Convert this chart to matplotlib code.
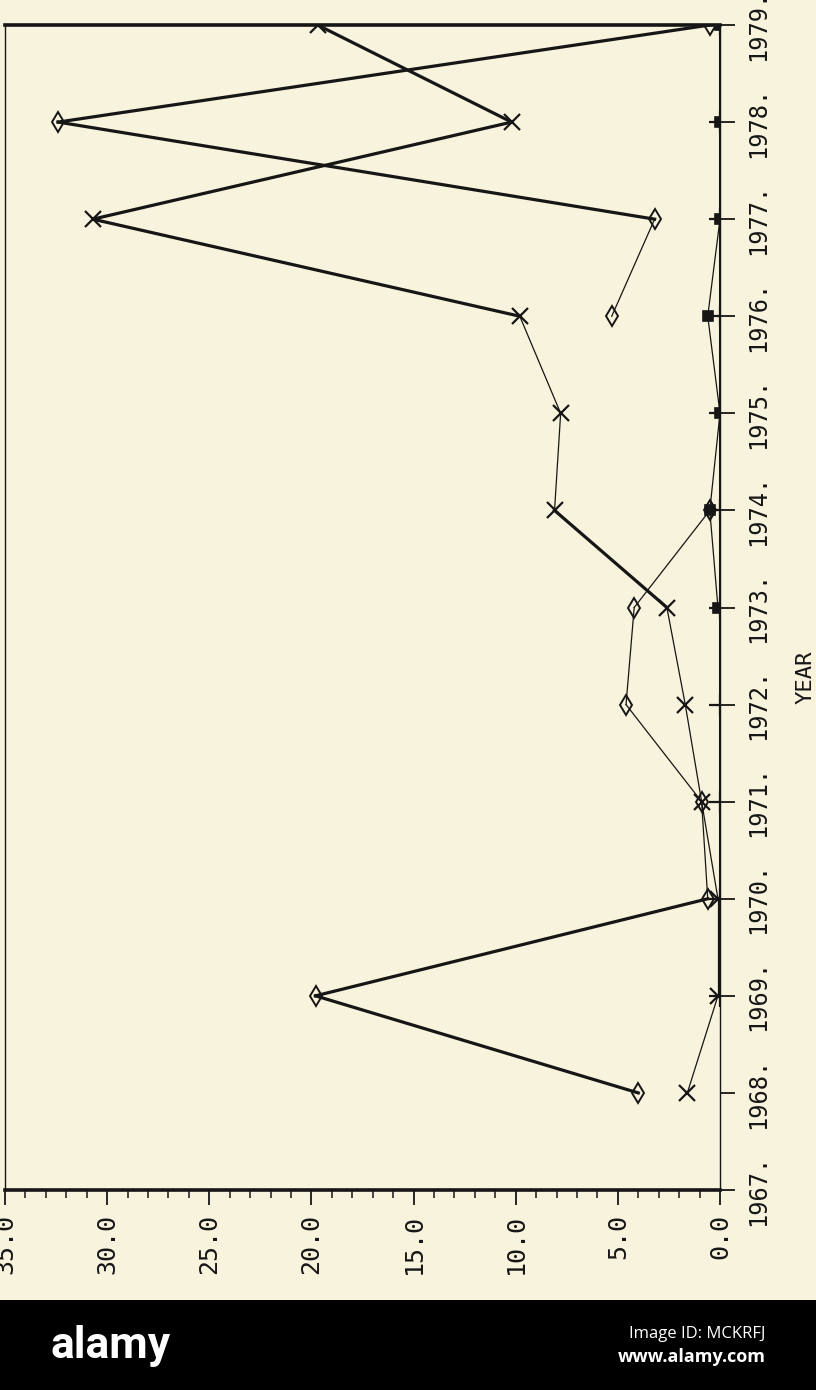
import numpy as np
import matplotlib
matplotlib.use('Agg')
from matplotlib import pyplot as plt
from matplotlib.ticker import MultipleLocator

years = [1968, 1969, 1970, 1971, 1972, 1973, 1974, 1975, 1976, 1977, 1978, 1979]
diamond = [4.0, 19.8, 0.6, 0.9, 4.6, 4.2, 0.5, np.nan, 5.3, 3.2, 32.4, 0.5]
cross = [1.6, 0.1, 0.1, 0.9, 1.7, 2.6, 8.1, 7.8, 9.8, 30.7, 10.2, 19.7]
plus_years = [1969, 1970, 1971, 1972, 1973, 1974, 1975, 1976, 1977, 1978, 1979]
plus_vals = [0.0, 0.0, 0.0, 0.0, 0.0, 0.0, 0.0, 0.0, 0.0, 0.0, 0.0]
square_years = [1973, 1974, 1975, 1976, 1977, 1978, 1979]
square_vals = [0.1, 0.5, 0.0, 0.6, 0.0, 0.0, 0.0]

year_ticks = list(range(1967, 1980))
year_labels = ['%d.' % y for y in year_ticks]
val_ticks = [0, 5, 10, 15, 20, 25, 30, 35]
val_labels = ['%.1f' % v for v in val_ticks]

paper = '#f7f3dc'
ink = '#161616'
mono = 'DejaVu Sans Mono'

fig = plt.figure(figsize=(8.16, 13.9), dpi=100, facecolor=paper)
ax = fig.add_axes([5/816, 200/1390, 715/816, 1165/1390])
ax.set_facecolor(paper)


def draw(xs, vals, marker, ms, mew, filled=False, base_lw=0.9):
    # plotter look: long strokes come out heavier than short ones
    for i in range(len(xs) - 1):
        a, b = vals[i], vals[i+1]
        if np.isnan(a) or np.isnan(b):
            continue
        lw = 2.3 if abs(b - a) > 5 else base_lw
        ax.plot([a, b], [xs[i], xs[i+1]], color=ink, lw=lw, zorder=3)
    ax.plot(vals, xs, ls='none', marker=marker, ms=ms, mew=mew,
            mec=ink, mfc=ink if filled else 'none', zorder=4)


draw(plus_years, plus_vals, '+', 16, 1.6, base_lw=2.2)
draw(square_years, square_vals, 's', 7, 1.2, filled=True)
draw(years, cross, 'x', 11, 1.6)
draw(years, diamond, 'd', 10, 1.4)

ax.set_xlim(35, 0)
ax.set_ylim(1967, 1979)

ax.set_xticks(val_ticks)
ax.set_xticklabels(val_labels, rotation=90, fontfamily=mono, fontsize=18, color=ink)
ax.xaxis.set_minor_locator(MultipleLocator(1))
ax.tick_params(axis='x', which='major', direction='out', length=11, width=1.3, pad=6, colors=ink)
ax.tick_params(axis='x', which='minor', direction='out', length=6, width=1.1, colors=ink)

ax.yaxis.tick_right()
ax.set_yticks(year_ticks)
ax.set_yticklabels(year_labels, rotation=90, va='center', fontfamily=mono, fontsize=17, color=ink)
ax.tick_params(axis='y', direction='out', length=11, width=1.3, pad=8, colors=ink)

ax.spines['bottom'].set_linewidth(2.6)
ax.spines['top'].set_linewidth(2.6)
ax.spines['left'].set_linewidth(1.0)
ax.spines['right'].set_linewidth(1.0)
for s in ax.spines.values():
    s.set_color(ink)

fig.text(806/816, 1 - 677/1390, 'YEAR', rotation=90, ha='center', va='center',
         fontfamily=mono, fontsize=16, color=ink)

# stock-photo banner along the bottom
band = fig.add_axes([0, 0, 1, 90/1390])
band.set_facecolor('black')
band.set_xticks([]), band.set_yticks([])
for s in band.spines.values():
    s.set_visible(False)
fig.text(50/816, 1 - 1346/1390, 'alamy', color='white', fontsize=32, fontweight='bold',
         fontfamily='Roboto', ha='left', va='center')
fig.text(765/816, 1 - 1334/1390, 'Image ID: MCKRFJ', color='white', fontsize=12,
         fontfamily='Open Sans', ha='right', va='center')
fig.text(766/816, 1 - 1357/1390, 'www.alamy.com', color='white', fontsize=13,
         fontweight='bold', fontfamily='Open Sans', ha='right', va='center')

fig.savefig('out.png', dpi=100, facecolor=paper)
